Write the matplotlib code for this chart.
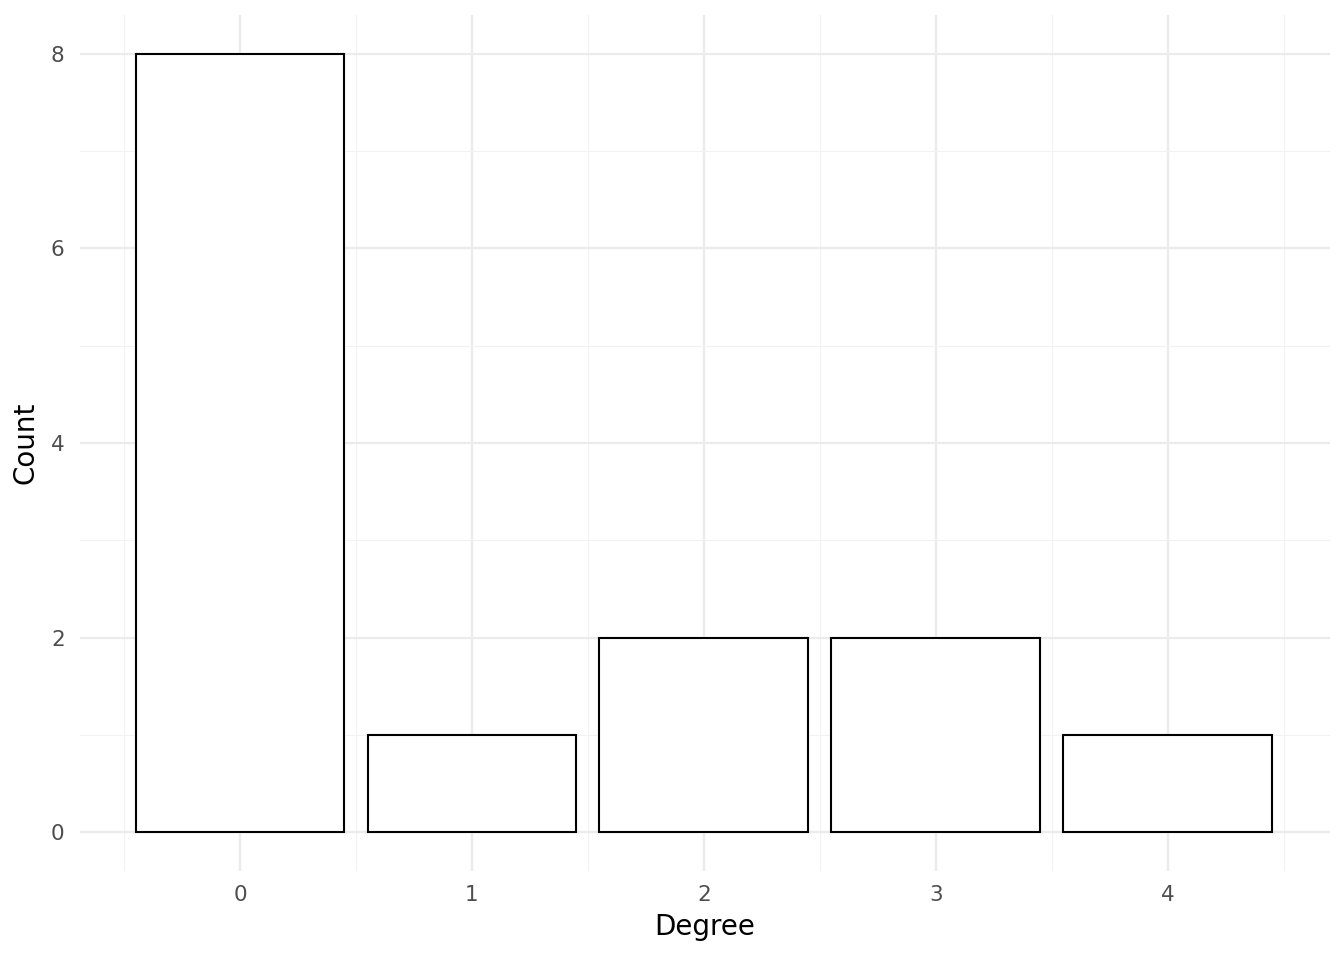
import matplotlib
matplotlib.use("Agg")
import matplotlib.pyplot as plt
from matplotlib.ticker import MultipleLocator

degree = [0, 1, 2, 3, 4]
count = [8, 1, 2, 2, 1]

fig = plt.figure(figsize=(13.44, 9.6), dpi=100)
ax = fig.add_axes([80 / 1344, 89 / 960, 1250 / 1344, 856 / 960])

ax.bar(degree, count, width=0.9, facecolor="white", edgecolor="black", linewidth=1.5, zorder=3)

ax.set_xlim(-0.69, 4.70)
ax.set_ylim(-0.4, 8.4)
ax.xaxis.set_major_locator(MultipleLocator(1))
ax.xaxis.set_minor_locator(MultipleLocator(0.5))
ax.yaxis.set_major_locator(MultipleLocator(2))
ax.yaxis.set_minor_locator(MultipleLocator(1))

ax.grid(which="major", color="#EBEBEB", linewidth=1.6, zorder=0)
ax.grid(which="minor", color="#F2F2F2", linewidth=0.8, zorder=0)
for s in ax.spines.values():
    s.set_visible(False)
ax.tick_params(which="both", length=0, labelsize=15.5, labelcolor="#4D4D4D")
ax.tick_params(axis="y", pad=11)
ax.tick_params(axis="x", pad=10)

ax.set_xlabel("Degree", fontsize=20, labelpad=6)
ax.set_ylabel("Count", fontsize=20, labelpad=8)

fig.savefig("out.png", dpi=100, facecolor="white")
